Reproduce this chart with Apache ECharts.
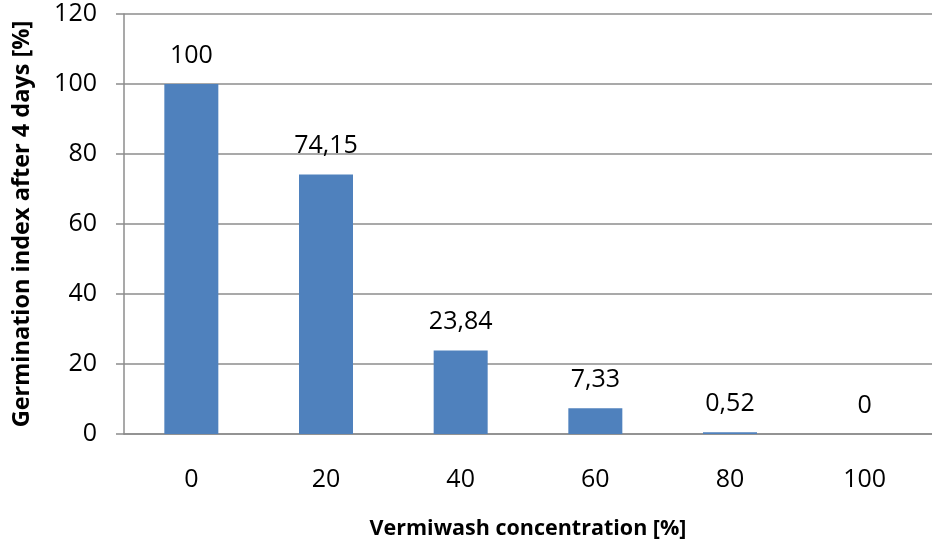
<!DOCTYPE html>
<html>
<head>
<meta charset="utf-8">
<script src="https://cdn.jsdelivr.net/npm/echarts@6/dist/echarts.min.js"></script>
<style>
  html, body { margin: 0; padding: 0; background: #fff; }
  #chart { width: 932px; height: 545px; }
</style>
</head>
<body>
<div id="chart"></div>
<script>
// data
const concentrations = ["0", "20", "40", "60", "80", "100"];
const germinationIndex = [100, 74.15, 23.84, 7.33, 0.52, 0];

const chart = echarts.init(document.getElementById("chart"));
const font = "Open Sans";
const grey = "#8c8c8c";

chart.setOption({
  animation: false,
  textStyle: { fontFamily: font },
  grid: { left: 124, right: -2, top: 14, bottom: 108.5 },
  xAxis: {
    type: "category",
    data: concentrations,
    name: "Vermiwash concentration [%]",
    nameLocation: "middle",
    nameGap: 84,
    nameTextStyle: { color: "#000", fontSize: 21.5, fontWeight: "bold", fontFamily: font },
    axisLine: { lineStyle: { color: grey, width: 1.5 } },
    axisTick: { length: 8, lineStyle: { color: grey, width: 1.5 } },
    axisLabel: { color: "#000", fontSize: 25, margin: 33 },
  },
  yAxis: {
    type: "value",
    min: 0,
    max: 120,
    interval: 20,
    name: "Germination index after 4 days [%]",
    nameLocation: "middle",
    nameGap: 90,
    nameTextStyle: { color: "#000", fontSize: 23.5, fontWeight: "bold", fontFamily: font },
    axisLine: { show: true, lineStyle: { color: grey, width: 1.5 } },
    axisTick: { show: true, length: 8, lineStyle: { color: grey, width: 1.5 } },
    axisLabel: { color: "#000", fontSize: 25, margin: 27 },
    splitLine: { lineStyle: { color: grey, width: 1.5 } },
  },
  series: [
    {
      type: "bar",
      data: germinationIndex,
      barWidth: 54,
      itemStyle: { color: "#4f81bd" },
      label: {
        show: true,
        position: "top",
        distance: 16,
        color: "#000",
        fontSize: 25,
        formatter: (p) => String(p.value).replace(".", ","),
      },
    },
  ],
});
</script>
</body>
</html>
